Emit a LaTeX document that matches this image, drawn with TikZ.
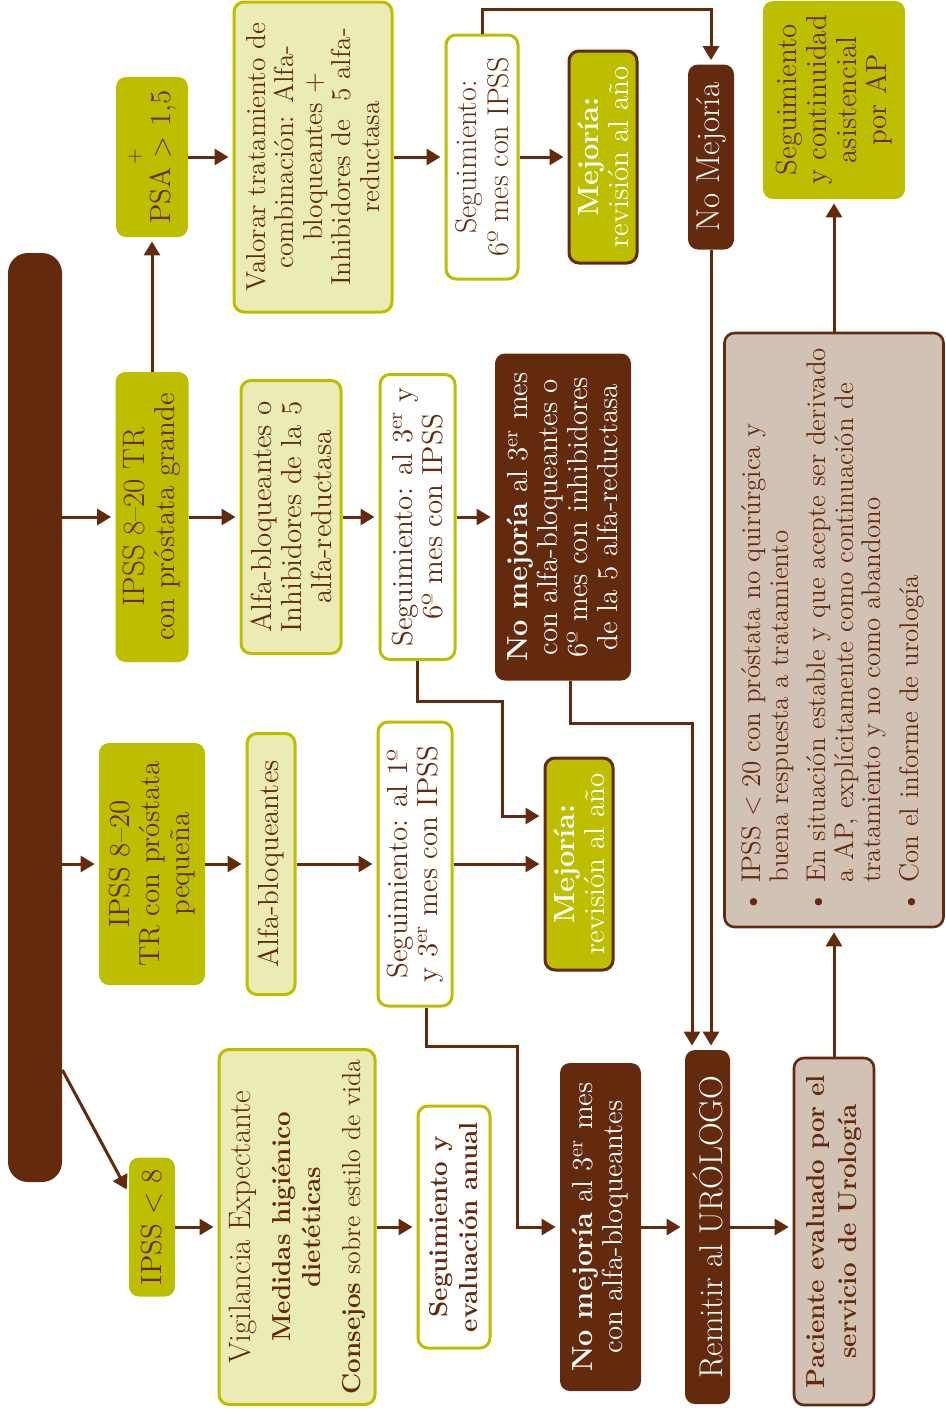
\documentclass[tikz,border=0pt]{standalone}
\usepackage{tikz}
\usetikzlibrary{arrows.meta,calc,positioning}
\definecolor{Cafe}{HTML}{632A0E}
\definecolor{Olivo}{HTML}{BDBE00}
\definecolor{Crema}{HTML}{EBEBB5}
\definecolor{Piel}{HTML}{D2C1B5}
\newcommand{\ersup}{\textsuperscript{er}}
\tikzset{
  caja/.style={rotate=90,align=center,inner sep=0pt,rounded corners=5pt,text=Cafe,
    font=\fontsize{14.5}{15}\selectfont},
  tam/.style 2 args={minimum width=#1*0.5pt,minimum height=#2*0.5pt},
  olivo/.style={caja,fill=Olivo},
  crema/.style={caja,fill=Crema,draw=Olivo,line width=1.5pt},
  blanco/.style={caja,fill=white,draw=Olivo,line width=1.5pt},
  oscuro/.style={caja,fill=Cafe,text=white},
  mejora/.style={caja,fill=Olivo,draw=Cafe,line width=1.5pt,text=white},
  piel/.style={caja,fill=Piel,draw=Cafe,line width=1.3pt},
  flecha/.style={draw=Cafe,line width=1.5pt,-{Triangle[length=7pt,width=8pt]},shorten >=2pt}
}
\begin{document}
\begin{tikzpicture}[x=0.5pt,y=-0.5pt]
    \useasboundingbox (0,0) rectangle (946,1415);
    \node[fill=Cafe,rounded corners=10pt,inner sep=0pt,minimum width=27pt,minimum height=464.5pt]
      (tronco) at (35,717.5) {};
    \node[olivo,tam={160}{72}] (psa) at (152,157)
      {{\fontsize{10}{10}\selectfont +}\\PSA > 1,5};
    \node[olivo,tam={290}{73}] (gran) at (152,517)
      {{\fontsize{15.5}{15}\selectfont IPSS 8–20 TR}\\con próstata grande};
    \node[olivo,tam={242}{106}] (peq) at (152,864) {IPSS 8–20\\TR con próstata\\pequeña};
    \node[olivo,tam={139}{46}] (ipss8) at (152,1227) {IPSS < 8};
    \node[crema,tam={310}{158},font=\fontsize{13.7}{14.3}\selectfont] (valorar) at (313,157)
      {Valorar tratamiento de\\combinación: Alfa-\\bloqueantes +\\Inhibidores de\ \ 5 alfa-\\reductasa};
    \node[crema,tam={273}{100}] (alfinh) at (291,517)
      {Alfa-bloqueantes o\\Inhibidores de la 5\\alfa-reductasa};
    \node[crema,tam={261}{48}] (alfa) at (271,864) {Alfa-bloqueantes};
    \node[crema,tam={355}{156},font=\fontsize{13}{15}\selectfont] (vigil) at (297,1227)
      {{\fontsize{15.5}{16}\selectfont Vigilancia Expectante}\\[5pt]
       \textbf{Medidas higiénico}\\\textbf{dietéticas}\\[5pt]
       \textbf{Consejos} sobre estilo de vida};
    \node[blanco,tam={244}{72},font=\fontsize{15}{16}\selectfont] (seg6) at (482,157)
      {Seguimiento:\\6º mes con IPSS};
    \node[blanco,tam={285}{75}] (seg36) at (417.5,517)
      {Seguimiento: al 3\ersup{} y\\6º mes con IPSS};
    \node[blanco,tam={284}{74}] (seg13) at (415,864)
      {Seguimiento: al 1º\\y 3\ersup{} mes con IPSS};
    \node[blanco,tam={242}{72},font=\bfseries\fontsize{13}{15}\selectfont] (anual) at (454,1227)
      {Seguimiento y\\evaluación anual};
    \node[mejora,tam={212}{68}] (mejora1) at (603,157)
      {\textbf{Mejoría:}\\revisión al año};
    \node[oscuro,tam={327}{136}] (nomejora2) at (563,517)
      {\textbf{No mejoría} al 3\ersup{} mes\\con alfa-bloqueantes o\\6º mes con inhibidores\\de la 5 alfa-reductasa};
    \node[mejora,tam={212}{68}] (mejora2) at (579,864)
      {\textbf{Mejoría:}\\revisión al año};
    \node[oscuro,tam={328}{81}] (nomejora3) at (600.5,1227)
      {\textbf{No mejoría} al 3\ersup{} mes\\con alfa-bloqueantes};
    \node[oscuro,tam={185}{46},font=\fontsize{16.5}{17}\selectfont] (nomejora1) at (711,157)
      {No Mejoría};
    \node[oscuro,tam={354}{45},font=\fontsize{16.5}{17}\selectfont] (remitir) at (707.5,1227)
      {Remitir al URÓLOGO};
    \node[olivo,tam={198}{142}] (ap) at (834,100)
      {Seguimiento\\y continuidad\\asistencial\\por AP};
    \node[piel,tam={594}{219},font=\fontsize{13.5}{13.7}\selectfont] (criterios) at (834,630)
      {\begin{tabular}{@{}l@{\ }l@{}}
        \textbullet & IPSS < 20 con próstata no quirúrgica y\\
                    & buena respuesta a tratamiento\\[5pt]
        \textbullet & En situación estable y que acepte ser derivado\\
                    & a AP, explícitamente como continuación de\\
                    & tratamiento y no como abandono\\[5pt]
        \textbullet & Con el informe de urología
       \end{tabular}};
    \node[piel,tam={347}{80},font=\bfseries\fontsize{13}{16}\selectfont] (paciente) at (834,1231.5)
      {Paciente evaluado por el\\servicio de Urología};

    \draw[flecha] (tronco.east |- gran) -- (gran);
    \draw[flecha] (tronco.east |- peq) -- (peq);
    \draw[flecha] (tronco.east |- 0,1070) -- ([yshift=17pt]ipss8.north);
    \foreach \a/\b in {gran/psa,psa/valorar,valorar/seg6,seg6/mejora1,
      gran/alfinh,alfinh/seg36,seg36/nomejora2,peq/alfa,alfa/seg13,seg13/mejora2,
      ipss8/vigil,vigil/anual,nomejora3/remitir,paciente/criterios,criterios/ap}
      \draw[flecha] (\a) -- (\b);
    \draw[flecha] (remitir) -- (remitir -| paciente.north);
    \draw[flecha] (seg6.east) -- ++(0,-24) -| (nomejora1.east);
    \draw[flecha] (nomejora1.west) -- (nomejora1.west |- remitir.east);
    \draw[flecha] ([xshift=3.5pt]nomejora2.west) -- ++(0,43) -| ([xshift=-7.75pt]remitir.east);
    \draw[flecha] (seg36.west) -- ++(0,40) -- ++(85,0) |- ([yshift=24pt]mejora2.north);
    \draw[flecha] ([xshift=5.5pt]seg13.west) -- ++(0,39) -- ++(91,0) |- (nomejora3);
  \end{tikzpicture}
\end{document}
